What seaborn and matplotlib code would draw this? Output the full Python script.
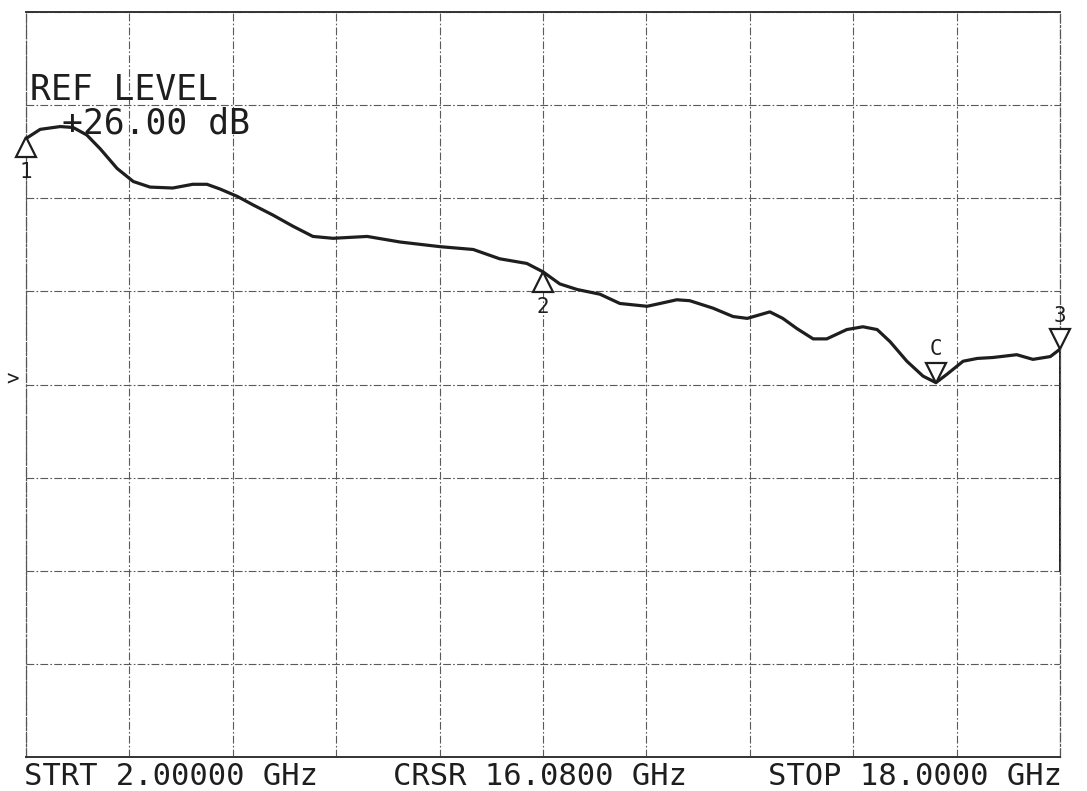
# -*- coding: utf-8 -*-
"""
Traza de analizador de redes: ganancia vs frecuencia, 2 a 18 GHz.
Valores leidos a ojo de la copia impresa.
"""

import numpy as np
import pandas as pd
import matplotlib.pyplot as plt
import matplotlib.transforms as mtransforms
import seaborn as sns

# %% Datos
frecuencia_ghz = [2.02, 2.22, 2.53, 2.73, 2.94, 3.15, 3.41, 3.66, 3.92, 4.27,
                  4.58, 4.80, 5.00, 5.27, 5.51, 5.82, 6.13, 6.44, 6.75, 7.28,
                  7.79, 8.41, 8.92, 9.33, 9.75, 10.00, 10.26, 10.53, 10.88, 11.19,
                  11.61, 11.81, 12.07, 12.27, 12.63, 12.94, 13.16, 13.51, 13.71, 13.93,
                  14.18, 14.39, 14.70, 14.95, 15.17, 15.37, 15.63, 15.88, 16.08, 16.25,
                  16.50, 16.72, 16.96, 17.33, 17.58, 17.85, 18.00]
ganancia_db = [28.65, 28.74, 28.77, 28.76, 28.68, 28.53, 28.32, 28.18, 28.12, 28.11,
               28.15, 28.15, 28.10, 28.02, 27.93, 27.82, 27.70, 27.59, 27.57, 27.59,
               27.53, 27.48, 27.45, 27.35, 27.30, 27.21, 27.08, 27.02, 26.97, 26.87,
               26.84, 26.87, 26.91, 26.90, 26.82, 26.73, 26.71, 26.78, 26.71, 26.60,
               26.49, 26.49, 26.59, 26.62, 26.59, 26.46, 26.25, 26.09, 26.02, 26.11,
               26.25, 26.28, 26.29, 26.32, 26.27, 26.30, 26.38]

marcadores_ghz = [2.0, 10.0, 16.08, 18.0]
marcadores_txt = ["1", "2", "C", "3"]
marcadores_arriba = [True, True, False, False]   # True -> triangulo bajo la traza

f_inicio, f_fin = 2.0, 18.0
ref_db, db_div = 26.0, 1.0

df = pd.DataFrame({"f": frecuencia_ghz, "g": ganancia_db})

# %% Figura
sns.set_style("white")
plt.rcParams["font.family"] = ["DejaVu Sans Mono", "DejaVu Sans"]

fig = plt.figure(figsize=(10.87, 7.91), dpi=100)
ax = fig.add_axes([0.0239, 0.043, 0.9513, 0.9418])

tinta = "#1e1e1e"

sns.lineplot(data=df, x="f", y="g", ax=ax, color=tinta, lw=2.3, zorder=5)
ax.lines[0].set_solid_joinstyle("round")

ax.set_xlim(f_inicio, f_fin)
ax.set_ylim(ref_db - 4 * db_div, ref_db + 4 * db_div)
ax.set_xticks(np.linspace(f_inicio, f_fin, 11))
ax.set_yticks(np.linspace(ref_db - 4 * db_div, ref_db + 4 * db_div, 9))
ax.set_xticklabels([])
ax.set_yticklabels([])
ax.tick_params(length=0)
ax.set_xlabel("")
ax.set_ylabel("")
ax.grid(True, color="#5a5a5a", lw=0.8, ls=(0, (7, 2, 1.5, 2)))

for lado in ["top", "bottom"]:
    ax.spines[lado].set_color("#333333")
    ax.spines[lado].set_linewidth(1.4)
for lado in ["left", "right"]:
    ax.spines[lado].set_color("#555555")
    ax.spines[lado].set_linewidth(0.9)
    ax.spines[lado].set_linestyle((0, (7, 2, 1.5, 2)))

# tramo vertical solido en el borde derecho
g_fin = np.interp(f_fin, frecuencia_ghz, ganancia_db)
ax.plot([f_fin, f_fin], [g_fin, ref_db - 2 * db_div], color=tinta, lw=1.4, clip_on=False)

# marcadores triangulares
ms = 14
for fm, txt, arriba in zip(marcadores_ghz, marcadores_txt, marcadores_arriba):
    gm = np.interp(fm, frecuencia_ghz, ganancia_db)
    signo = -1 if arriba else 1
    off = mtransforms.ScaledTranslation(0, signo * ms / 2 / 72, fig.dpi_scale_trans)
    ax.plot([fm], [gm], marker="^" if arriba else "v", ms=ms, mfc="white",
            mec=tinta, mew=1.6, transform=ax.transData + off, clip_on=False, zorder=6)
    ax.annotate(txt, (fm, gm), xytext=(0, -25 if arriba else 24),
                textcoords="offset points", ha="center", va="center",
                fontsize=15, color=tinta)

# textos
ax.text(0.004, 0.895, "REF LEVEL", transform=ax.transAxes, fontsize=25,
        color=tinta, va="center", ha="left")
ax.text(0.035, 0.851, "+26.00 dB", transform=ax.transAxes, fontsize=25,
        color=tinta, va="center", ha="left")

fig.text(12 / 1087, 1 - 379 / 791, ">", fontsize=15, color=tinta, va="center", ha="center")

fig.text(0.022, 0.018, "STRT 2.00000 GHz", fontsize=22, color=tinta, va="center", ha="left")
fig.text(0.362, 0.018, "CRSR 16.0800 GHz", fontsize=22, color=tinta, va="center", ha="left")
fig.text(0.977, 0.018, "STOP 18.0000 GHz", fontsize=22, color=tinta, va="center", ha="right")

fig.savefig("out.png", dpi=100)
